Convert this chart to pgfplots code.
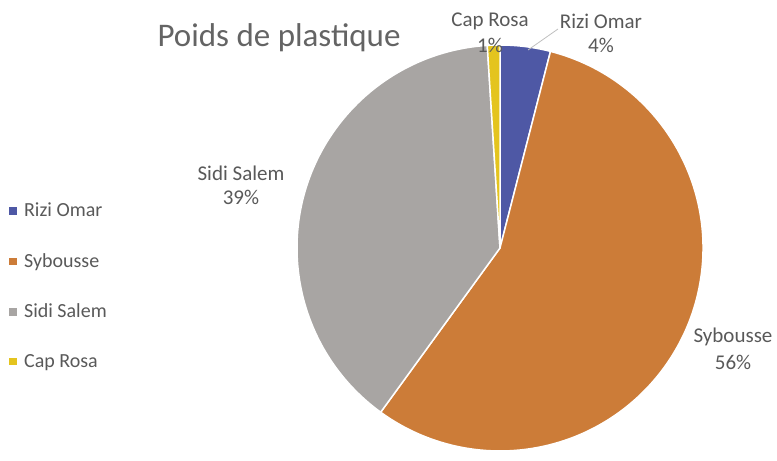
\documentclass[border=0pt]{standalone}
\usepackage{fontspec}
\setmainfont{Carlito}
\usepackage{pgfplots}
\pgfplotsset{compat=1.18}
\definecolor{cRizi}{RGB}{78,88,165}
\definecolor{cSyb}{RGB}{204,124,56}
\definecolor{cSidi}{RGB}{168,165,163}
\definecolor{cCap}{RGB}{228,196,30}
\definecolor{txt}{RGB}{89,89,89}
\definecolor{ttl}{RGB}{100,100,100}
% values (percent)
\def\vA{4}   % Rizi Omar
\def\vB{56}  % Sybousse
\def\vC{39}  % Sidi Salem
\def\vD{1}   % Cap Rosa
\begin{document}
\begin{tikzpicture}
\pgfmathsetmacro\sA{90}
\pgfmathsetmacro\eA{\sA-3.6*\vA}
\pgfmathsetmacro\eB{\eA-3.6*\vB}
\pgfmathsetmacro\eC{\eB-3.6*\vC}
\pgfmathsetmacro\eD{\eC-3.6*\vD}
\begin{axis}[
  scale only axis, width=777pt, height=452pt,
  xmin=0, xmax=777, ymin=0, ymax=452,
  hide axis, clip=false,
  legend cell align=left,
  legend style={draw=none, fill=none, text=txt,
    font=\fontsize{20}{23}\selectfont,
    at={(axis cs:6,253)}, anchor=north west, row sep=31pt,
    /tikz/every odd column/.append style={column sep=6pt}},
]
\addlegendimage{legend image code/.code={\fill[cRizi] (0pt,-3.2pt) rectangle (6.5pt,3.2pt);}}
\addlegendentry{Rizi Omar}
\addlegendimage{legend image code/.code={\fill[cSyb] (0pt,-3.2pt) rectangle (6.5pt,3.2pt);}}
\addlegendentry{Sybousse}
\addlegendimage{legend image code/.code={\fill[cSidi] (0pt,-3.2pt) rectangle (6.5pt,3.2pt);}}
\addlegendentry{Sidi Salem}
\addlegendimage{legend image code/.code={\fill[cCap] (0pt,-3.2pt) rectangle (6.5pt,3.2pt);}}
\addlegendentry{Cap Rosa}

\fill[cRizi, draw=white, line width=1.5pt] (axis cs:500,204) -- ++(\sA:203pt) arc[start angle=\sA, end angle=\eA, radius=203pt] -- cycle;
\fill[cSyb, draw=white, line width=1.5pt] (axis cs:500,204) -- ++(\eA:203pt) arc[start angle=\eA, end angle=\eB, radius=203pt] -- cycle;
\fill[cSidi, draw=white, line width=1.5pt] (axis cs:500,204) -- ++(\eB:203pt) arc[start angle=\eB, end angle=\eC, radius=203pt] -- cycle;
\fill[cCap, draw=white, line width=1.5pt] (axis cs:500,204) -- ++(\eC:203pt) arc[start angle=\eC, end angle=\eD, radius=203pt] -- cycle;

\draw[black!25, line width=0.8pt] (axis cs:528,402) -- (axis cs:558,423);

\node[anchor=west, text=ttl, font=\fontsize{33}{37}\selectfont] at (axis cs:154,414) {Poids de plastique};
\node[text=txt, font=\fontsize{21}{24}\selectfont] at (axis cs:490,431) {Cap Rosa};
\node[text=txt, font=\fontsize{21}{24}\selectfont] at (axis cs:490,407) {1\%};
\node[text=txt, font=\fontsize{21}{24}\selectfont] at (axis cs:601,431) {Rizi Omar};
\node[text=txt, font=\fontsize{21}{24}\selectfont] at (axis cs:601,407) {4\%};
\node[text=txt, font=\fontsize{21}{24}\selectfont] at (axis cs:241,279) {Sidi Salem};
\node[text=txt, font=\fontsize{21}{24}\selectfont] at (axis cs:241,255) {39\%};
\node[text=txt, font=\fontsize{21}{24}\selectfont] at (axis cs:733,115) {Sybousse};
\node[text=txt, font=\fontsize{21}{24}\selectfont] at (axis cs:733,90) {56\%};
\end{axis}
\useasboundingbox (0,0) rectangle (777pt,452pt);
\end{tikzpicture}
\end{document}
